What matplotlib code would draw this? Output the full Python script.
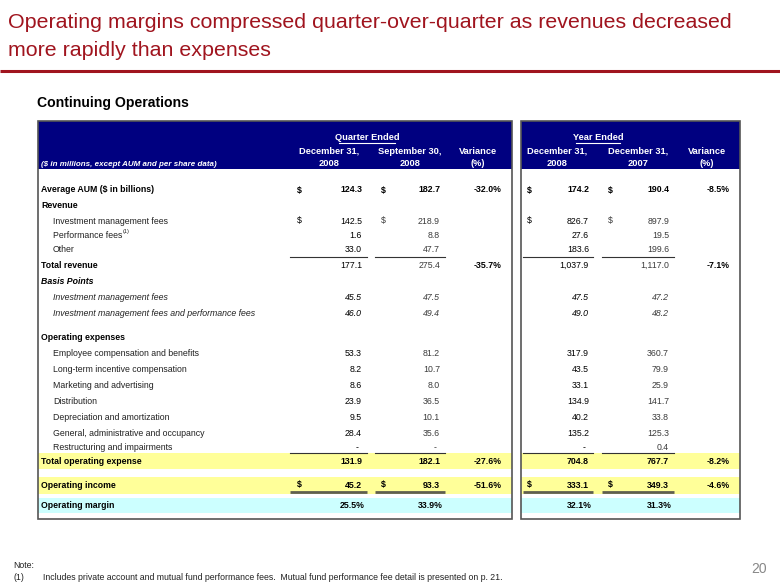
import matplotlib
matplotlib.use("Agg")
import matplotlib.pyplot as plt
from matplotlib.patches import Rectangle
from matplotlib import font_manager

# ---------------- data ----------------
title = ["Operating margins compressed quarter-over-quarter as revenues decreased",
         "more rapidly than expenses"]
subtitle = "Continuing Operations"
units_note = "($ in millions, except AUM and per share data)"
group_headers = ["Quarter Ended", "Year Ended"]
col_headers = [("December 31,", "2008"), ("September 30,", "2008"), ("Variance", "(%)"),
               ("December 31,", "2008"), ("December 31,", "2007"), ("Variance", "(%)")]

row_labels = ["Average AUM ($ in billions)", "Revenue", "Investment management fees",
              "Performance fees", "Other", "Total revenue", "Basis Points",
              "Investment management fees", "Investment management fees and performance fees",
              "Operating expenses", "Employee compensation and benefits",
              "Long-term incentive compensation", "Marketing and advertising", "Distribution",
              "Depreciation and amortization", "General, administrative and occupancy",
              "Restructuring and impairments", "Total operating expense",
              "Operating income", "Operating margin"]
row_kind = ["bold", "bold", "indent", "indent", "indent", "bold", "bolditalic",
            "italic", "italic", "bold", "indent", "indent", "indent", "indent",
            "indent", "indent", "indent", "bold", "bold", "bold"]
q4_2008 = ["124.3", "", "142.5", "1.6", "33.0", "177.1", "", "45.5", "46.0", "",
           "53.3", "8.2", "8.6", "23.9", "9.5", "28.4", "-", "131.9", "45.2", "25.5%"]
q3_2008 = ["182.7", "", "218.9", "8.8", "47.7", "275.4", "", "47.5", "49.4", "",
           "81.2", "10.7", "8.0", "36.5", "10.1", "35.6", "-", "182.1", "93.3", "33.9%"]
q_var = ["-32.0%", "", "", "", "", "-35.7%", "", "", "", "",
         "", "", "", "", "", "", "", "-27.6%", "-51.6%", ""]
fy_2008 = ["174.2", "", "826.7", "27.6", "183.6", "1,037.9", "", "47.5", "49.0", "",
           "317.9", "43.5", "33.1", "134.9", "40.2", "135.2", "-", "704.8", "333.1", "32.1%"]
fy_2007 = ["190.4", "", "897.9", "19.5", "199.6", "1,117.0", "", "47.2", "48.2", "",
           "360.7", "79.9", "25.9", "141.7", "33.8", "125.3", "0.4", "767.7", "349.3", "31.3%"]
fy_var = ["-8.5%", "", "", "", "", "-7.1%", "", "", "", "",
          "", "", "", "", "", "", "", "-8.2%", "-4.6%", ""]
dollar_rows = [0, 2, 18]
bold_value_rows = [0, 17, 18, 19]
footnote = "Includes private account and mutual fund performance fees.  Mutual fund performance fee detail is presented on p. 21."
page_number = "20"

# ---------------- layout ----------------
row_y = [190, 205, 221, 235, 250, 265, 281, 297, 313, 338, 354, 370, 386, 401,
         417, 433, 448, 462, 485, 506]
NAVY = "#000080"
RED = "#A0141E"
YELLOW = "#FFFF99"
CYAN = "#CCFFFF"
FS = 6.3

installed = {f.name for f in font_manager.fontManager.ttflist}
narrow_name = None
for cand in ["Liberation Sans Narrow", "Arial Narrow", "DejaVu Sans Condensed"]:
    if cand in installed:
        narrow_name = cand
        break

fig = plt.figure(figsize=(7.8, 5.85), dpi=100)
ax = fig.add_axes([0, 0, 1, 1])
ax.set_xlim(0, 780)
ax.set_ylim(585, 0)
ax.axis("off")

sans = ["Liberation Sans", "DejaVu Sans"]
if narrow_name is not None:
    narrow = [narrow_name, "Liberation Sans"]
    title_fs, sub_fs = 18.5, 11
else:
    narrow = sans
    title_fs, sub_fs = 15.4, 10.1

# title
ax.text(8, 22, title[0], fontsize=title_fs, color=RED, family=narrow, va="center", ha="left")
ax.text(8, 50, title[1], fontsize=title_fs, color=RED, family=narrow, va="center", ha="left")
ax.plot([0, 780], [71, 71], color=RED, lw=2.2, solid_capstyle="butt")
ax.text(37, 103, subtitle, fontsize=sub_fs, fontweight="bold", family=narrow, va="center")

# panels
panels = [(37.5, 511.5), (521, 739.5)]
top, head_bot, bottom = 120.5, 169, 519
for x0, x1 in panels:
    ax.add_patch(Rectangle((x0, top), x1 - x0, head_bot - top, facecolor=NAVY, edgecolor="none", zorder=1))
    ax.add_patch(Rectangle((x0, 453), x1 - x0, 16, facecolor=YELLOW, edgecolor="none", zorder=1))
    ax.add_patch(Rectangle((x0, 477), x1 - x0, 17, facecolor=YELLOW, edgecolor="none", zorder=1))
    ax.add_patch(Rectangle((x0, 498), x1 - x0, 15, facecolor=CYAN, edgecolor="none", zorder=1))
    ax.add_patch(Rectangle((x0, top), x1 - x0, bottom - top, facecolor="none", edgecolor="#555555", lw=1.2, zorder=3))

# headers
grp_x = [367, 598]
for gx, g in zip(grp_x, group_headers):
    ax.text(gx, 137, g, fontsize=FS + 0.4, fontweight="bold", color="white", family=sans,
            ha="center", va="center", zorder=4)
hw = [56, 44]
for gx, w in zip(grp_x, hw):
    ax.plot([gx - w / 2, gx + w / 2], [143, 143], color="white", lw=0.8, zorder=4)
hdr_x = [329, 410, 478, 557, 638, 707]
for hx, (l1, l2) in zip(hdr_x, col_headers):
    ax.text(hx, 151, l1, fontsize=FS + 0.4, fontweight="bold", color="white", family=sans,
            ha="center", va="center", zorder=4)
    ax.text(hx, 163, l2, fontsize=FS + 0.4, fontweight="bold", color="white", family=sans,
            ha="center", va="center", zorder=4)
ax.text(41, 164, units_note, fontsize=FS - 0.5, fontweight="bold", style="italic", color="white",
        family=sans, ha="left", va="center", zorder=4)

# row labels
for i, (lab, kind) in enumerate(zip(row_labels, row_kind)):
    y = row_y[i]
    if kind == "bold":
        ax.text(41, y, lab, fontsize=FS, fontweight="bold", family=sans, va="center", zorder=4)
    elif kind == "bolditalic":
        ax.text(41, y, lab, fontsize=FS, fontweight="bold", style="italic", family=sans, va="center", zorder=4)
    elif kind == "italic":
        ax.text(53, y, lab, fontsize=FS, style="italic", family=sans, va="center", color="#222222", zorder=4)
    else:
        ax.text(53, y, lab, fontsize=FS, family=sans, va="center", color="#222222", zorder=4)
        if lab == "Performance fees":
            ax.text(123, y - 4, "(1)", fontsize=FS - 2.2, family=sans, va="center", color="#222222", zorder=4)

# values
cols = [
    (q4_2008, 362, 297, "#000000"),
    (q3_2008, 440, 381, "#3c3c3c"),
    (q_var, 502, None, "#000000"),
    (fy_2008, 589, 527, "#000000"),
    (fy_2007, 669, 608, "#3c3c3c"),
    (fy_var, 730, None, "#000000"),
]
for vals, xr, xd, colr in cols:
    for i, v in enumerate(vals):
        if not v:
            continue
        y = row_y[i]
        bold = i in bold_value_rows or xd is None
        italic = row_kind[i] == "italic"
        xx = xr
        if v.endswith("%") and xd is not None:
            xx = xr + 3
        if v == "-":
            xx = xr - 4
        ax.text(xx, y, v, fontsize=FS, family=sans, ha="right", va="center",
                fontweight="bold" if bold else "normal", style="italic" if italic else "normal",
                color="#000000" if bold else colr, zorder=4)
        if xd is not None and i in dollar_rows:
            ax.text(xd, y, "$", fontsize=FS, family=sans, ha="left", va="center",
                    fontweight="bold" if bold else "normal", color=colr if not bold else "#000000", zorder=4)

# underlines
segs = [(290, 367), (375, 445), (523, 593), (602, 674)]
for a, b in segs:
    ax.plot([a, b], [257, 257], color="#333333", lw=0.8, zorder=4)
    ax.plot([a, b], [453, 453], color="#333333", lw=0.8, zorder=4)
    ax.plot([a, b], [491.5, 491.5], color="#5f5f50", lw=2.0, solid_capstyle="butt", zorder=4)

# footnote
ax.text(13, 565, "Note:", fontsize=FS, family=sans, va="center", color="#222222")
ax.text(13, 577, "(1)", fontsize=FS, family=sans, va="center", color="#222222")
ax.text(43, 577, footnote, fontsize=FS, family=sans, va="center", color="#222222")
ax.text(759, 569, page_number, fontsize=10, family=sans, ha="center", va="center", color="#888888")

fig.savefig("out.png", dpi=100)
